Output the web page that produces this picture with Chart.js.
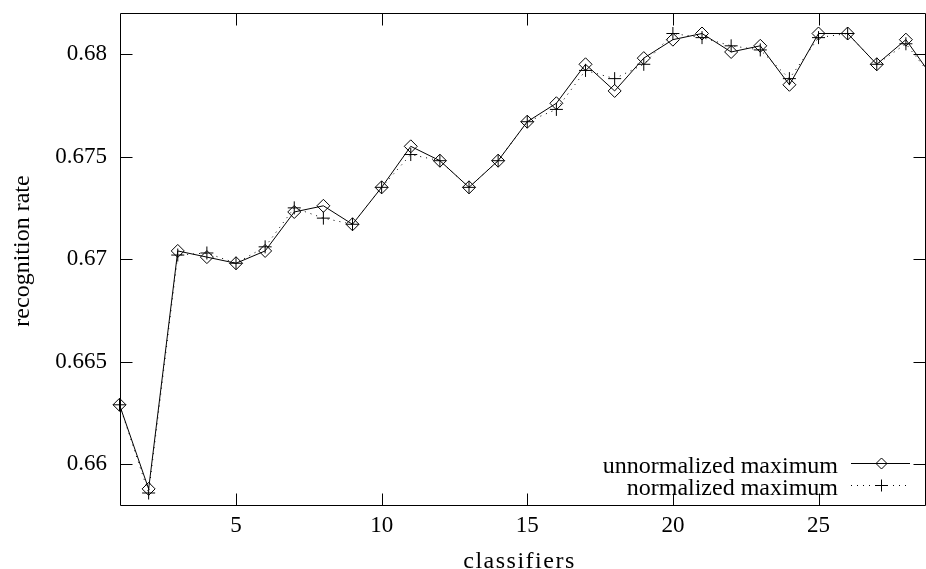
<!DOCTYPE html>
<html>
<head>
<meta charset="utf-8">
<script src="https://cdn.jsdelivr.net/npm/chart.js@4/dist/chart.umd.min.js"></script>
<style>
  html, body { margin: 0; padding: 0; background: #fff; }
  #chartBox { width: 926px; height: 569px; }
</style>
</head>
<body>
<div id="chartBox"><canvas id="rateChart" width="926" height="569"></canvas></div>
<script>
// Recognition rate vs number of classifiers
const classifiers = [1, 2, 3, 4, 5, 6, 7, 8, 9, 10, 11, 12, 13, 14, 15, 16, 17, 18, 19, 20, 21, 22, 23, 24, 25, 26, 27, 28, 29];
const unnormalizedMax = [0.6629, 0.6588, 0.6704, 0.6701, 0.6698, 0.6704, 0.6723, 0.6726, 0.6717, 0.6735,
    0.6755, 0.6748, 0.6735, 0.6748, 0.6767, 0.6776, 0.6795, 0.6782, 0.6798, 0.6807,
    0.6810, 0.6801, 0.6804, 0.6785, 0.6810, 0.6810, 0.6795, 0.6807, 0.6787];
const normalizedMax = [0.6629, 0.6586, 0.6702, 0.6703, 0.6698, 0.6706, 0.6725, 0.6720, 0.6717, 0.6735,
    0.6751, 0.6748, 0.6735, 0.6748, 0.6767, 0.6773, 0.6792, 0.6788, 0.6795, 0.6810,
    0.6808, 0.6804, 0.6802, 0.6788, 0.6808, 0.6810, 0.6795, 0.6805, 0.6787];
const xTicks = [5, 10, 15, 20, 25];
const yTicks = [0.66, 0.665, 0.67, 0.675, 0.68];
const yTickLabels = ['0.66', '0.665', '0.67', '0.675', '0.68'];
const xTitle = 'classifiers';
const yTitle = 'recognition rate';

const FONT = 'Liberation Serif, Times New Roman, serif';
const TICK_LEN = 12;

// gnuplot style frame with inward ticks on all four sides
const framePlugin = {
    id: 'frame',
    beforeDatasetsDraw(chart) {
        const ctx = chart.ctx;
        const a = chart.chartArea;
        const xs = chart.scales.x, ys = chart.scales.y;
        const L = Math.round(a.left) + 0.5, R = Math.round(a.right) - 0.5;
        const T = Math.round(a.top) + 0.5, B = Math.round(a.bottom) + 0.5;
        ctx.save();
        ctx.strokeStyle = '#000';
        ctx.lineWidth = 1;
        ctx.beginPath();
        ctx.rect(L, T, R - L, B - T);
        xTicks.forEach(v => {
            const px = Math.round(xs.getPixelForValue(v)) + 0.5;
            ctx.moveTo(px, B); ctx.lineTo(px, B - TICK_LEN);
            ctx.moveTo(px, T); ctx.lineTo(px, T + TICK_LEN);
        });
        yTicks.forEach(v => {
            const py = Math.round(ys.getPixelForValue(v)) + 0.5;
            ctx.moveTo(L, py); ctx.lineTo(L + TICK_LEN, py);
            ctx.moveTo(R, py); ctx.lineTo(R - TICK_LEN, py);
        });
        ctx.stroke();
        ctx.restore();
    }
};

// draws text stretched to a given width (the original uses a wider serif)
function spacedText(ctx, text, x, y, width) {
    ctx.letterSpacing = '0px';
    const w0 = ctx.measureText(text).width;
    const extra = Math.max(0, (width - w0) / (text.length - 1));
    ctx.letterSpacing = extra + 'px';
    ctx.textAlign = 'left';
    ctx.fillText(text, x - width / 2, y);
    ctx.letterSpacing = '0px';
}

// axis titles
const titlePlugin = {
    id: 'axisTitles',
    afterDraw(chart) {
        const ctx = chart.ctx;
        const a = chart.chartArea;
        ctx.save();
        ctx.font = '24px ' + FONT;
        ctx.fillStyle = '#000';
        ctx.textBaseline = 'alphabetic';
        spacedText(ctx, xTitle, (a.left + a.right) / 2 - 4, 567.5, 111);
        ctx.translate(28.5, (a.top + a.bottom) / 2);
        ctx.rotate(-Math.PI / 2);
        spacedText(ctx, yTitle, 0, 0, 135);
        ctx.restore();
    }
};

// legend in the lower right corner, text right aligned before the sample
const keyPlugin = {
    id: 'key',
    afterDatasetsDraw(chart) {
        const ctx = chart.ctx;
        const textRight = 838, lineFrom = 851, lineTo = 910;
        const rowY = [463, 485], baseY = [473, 494.5];
        ctx.save();
        ctx.font = '24px ' + FONT;
        chart.data.datasets.forEach((ds, i) => {
            const y = rowY[i] + 0.5;
            ctx.fillStyle = '#000';
            ctx.textAlign = 'right';
            ctx.textBaseline = 'alphabetic';
            ctx.fillText(ds.label, textRight, baseY[i]);
            ctx.strokeStyle = '#000';
            ctx.lineWidth = 1;
            ctx.setLineDash(ds.borderDash || []);
            ctx.beginPath();
            ctx.moveTo(lineFrom, y);
            ctx.lineTo(lineTo, y);
            ctx.stroke();
            ctx.setLineDash([]);
            ctx.fillStyle = 'rgba(0,0,0,0)';
            const mx = Math.round((lineFrom + lineTo) / 2) + 0.5;
            Chart.helpers.drawPoint(ctx, {
                pointStyle: ds.pointStyle,
                radius: ds.pointStyle === 'rectRot' ? 5.5 : 6,
                borderWidth: 1
            }, mx, y);
        });
        ctx.restore();
    }
};

function noPadding(scale) {
    scale.paddingTop = 0;
    scale.paddingBottom = 0;
    scale.paddingLeft = 0;
    scale.paddingRight = 0;
}

const ctx = document.getElementById('rateChart').getContext('2d');
const rateChart = new Chart(ctx, {
    type: 'line',
    data: {
        datasets: [
            {
                label: 'unnormalized maximum',
                data: classifiers.map((c, i) => ({ x: c, y: unnormalizedMax[i] })),
                borderColor: '#000',
                backgroundColor: 'rgba(0,0,0,0)',
                borderWidth: 1,
                pointStyle: 'rectRot',
                pointRadius: 6.5,
                pointBorderWidth: 1,
                pointBackgroundColor: 'rgba(0,0,0,0)',
                pointBorderColor: '#000',
                tension: 0,
                clip: { left: 20, top: 20, right: 0, bottom: 20 }
            },
            {
                label: 'normalized maximum',
                data: classifiers.map((c, i) => ({ x: c, y: normalizedMax[i] })),
                borderColor: '#000',
                backgroundColor: 'rgba(0,0,0,0)',
                borderWidth: 1,
                borderDash: [1, 5],
                pointStyle: 'cross',
                pointRadius: 6.5,
                pointBorderWidth: 1,
                pointBorderColor: '#000',
                tension: 0,
                clip: { left: 20, top: 20, right: 0, bottom: 20 }
            }
        ]
    },
    options: {
        responsive: false,
        animation: false,
        devicePixelRatio: 1,
        layout: { autoPadding: false, padding: { top: 13, right: 0, left: 0, bottom: 0 } },
        plugins: {
            legend: { display: false },
            tooltip: { enabled: false }
        },
        scales: {
            x: {
                type: 'linear',
                min: 1,
                max: 28.69,
                afterFit: function(scale) { scale.height = 63.7; noPadding(scale); },
                afterBuildTicks: function(scale) { scale.ticks = xTicks.map(v => ({ value: v })); },
                grid: { display: false, drawTicks: false },
                border: { display: false },
                ticks: {
                    color: '#000',
                    padding: 7,
                    maxRotation: 0,
                    autoSkip: false,
                    font: { family: FONT, size: 23 },
                    callback: function(v) { return String(v); }
                },
                title: { display: false }
            },
            y: {
                type: 'linear',
                min: 0.658,
                max: 0.682,
                afterFit: function(scale) { scale.width = 119.5; noPadding(scale); },
                afterBuildTicks: function(scale) { scale.ticks = yTicks.map(v => ({ value: v })); },
                grid: { display: false, drawTicks: false },
                border: { display: false },
                ticks: {
                    color: '#000',
                    padding: 12.5,
                    autoSkip: false,
                    font: { family: FONT, size: 23 },
                    callback: function(v) {
                        const i = yTicks.findIndex(t => Math.abs(t - v) < 1e-9);
                        return i >= 0 ? yTickLabels[i] : '';
                    }
                },
                title: { display: false }
            }
        }
    },
    plugins: [framePlugin, keyPlugin, titlePlugin]
});
</script>
</body>
</html>
